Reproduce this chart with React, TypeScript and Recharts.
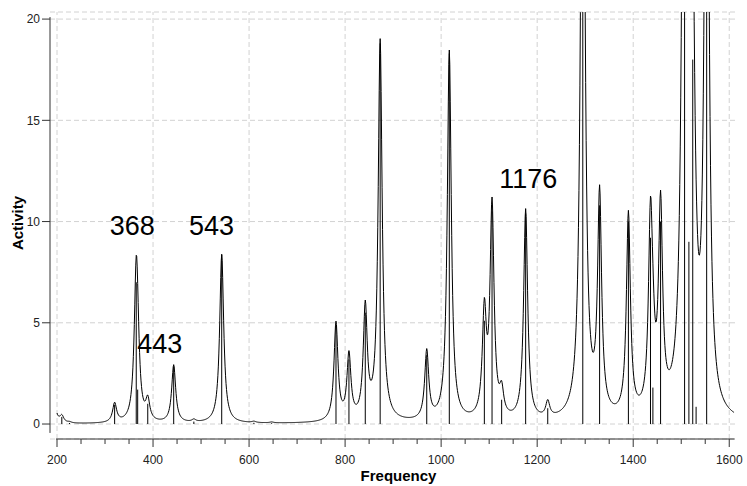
import React from 'react';
import { ComposedChart, Line, XAxis, YAxis, CartesianGrid, ReferenceLine, ReferenceDot } from 'recharts';

// stick spectrum: frequency (cm-1) and activity
const peakFreq = [
  194, 210, 226, 320, 365, 368, 389, 443, 485, 543,
  610, 647, 781, 808, 842, 873, 970, 1017, 1090, 1106,
  1126, 1176, 1222, 1295, 1330, 1390, 1436, 1441, 1457, 1507,
  1516, 1524, 1531, 1553,
];
const peakActivity = [
  1.1, 0.35, 0.05, 0.95, 7.0, 1.7, 1.0, 2.85, 0.12, 8.35,
  0.06, 0.04, 4.85, 3.2, 5.5, 18.8, 3.4, 18.3, 5.1, 10.5,
  1.2, 10.4, 0.78, 40, 10.8, 10.0, 9.2, 1.8, 10.0, 50,
  9, 18, 0.85, 42,
];

// lorentzian half width used for the broadened envelope
const HWHM = 5;
const freqStart = 200;
const freqEnd = 1610;

const xTicks = [
  200, 250, 300, 350, 400, 450, 500, 550, 600, 650, 700, 750, 800, 850, 900,
  950, 1000, 1050, 1100, 1150, 1200, 1250, 1300, 1350, 1400, 1450, 1500, 1550, 1600,
];
const xGrid = [200, 400, 600, 800, 1000, 1200, 1400, 1600];
const yTicks = [0, 5, 10, 15, 20];

const noteText = ['368', '443', '543', '1176'];
const noteFreq = [310, 367, 475, 1121];
const noteActivity = [9.33, 3.5, 9.33, 11.65];

const curve: { f: number; y: number }[] = [];
for (let f = freqStart; f <= freqEnd; f++) {
  let y = 0;
  peakFreq.forEach((p, i) => {
    const d = (f - p) / HWHM;
    y += peakActivity[i] / (1 + d * d);
  });
  curve.push({ f, y });
}

const GRID = '#d2d2d2';
const AXIS = '#333';

const XTick = (props: any) => {
  const { x, y, payload } = props;
  const major = payload.value % 200 === 0;
  return (
    <g>
      <line x1={x} x2={x} y1={y} y2={y + (major ? 8 : 5)} stroke={AXIS} />
      {major && (
        <text x={x} y={y + 25} textAnchor="middle" fontSize={12} fill="#222">
          {payload.value}
        </text>
      )}
    </g>
  );
};

const App = () => {
  return (
    <div style={{ position: 'absolute', left: 0, top: 0, fontFamily: '"Liberation Sans", Arial, sans-serif' }}>
      <ComposedChart width={747} height={486} data={curve} margin={{ top: 12, right: 12, left: 0, bottom: 0 }}>
        <CartesianGrid vertical={false} stroke={GRID} strokeDasharray="5 3" />
        {xGrid.map((v) => (
          <ReferenceLine key={'g' + v} x={v} stroke={GRID} strokeDasharray="5 3" />
        ))}
        <XAxis
          dataKey="f"
          type="number"
          domain={[185.4, 1612]}
          allowDataOverflow
          ticks={xTicks}
          interval={0}
          tick={<XTick />}
          tickLine={false}
          axisLine={false}
          tickSize={0}
          tickMargin={0}
          height={47}
          label={{
            value: 'Frequency',
            content: (p: any) => (
              <text
                x={p.viewBox.x + p.viewBox.width / 2 + 6}
                y={p.viewBox.y + 42}
                textAnchor="middle"
                fontSize={15}
                fontWeight="bold"
                fill="#000"
              >
                Frequency
              </text>
            ),
          }}
        />
        <YAxis
          type="number"
          domain={[-0.74, 20.35]}
          allowDataOverflow
          ticks={yTicks}
          width={50}
          tickSize={8}
          tickMargin={2}
          axisLine={false}
          tickLine={{ stroke: AXIS }}
          tick={{ fontSize: 12, fill: '#222' }}
          label={{
            value: 'Activity',
            content: (p: any) => {
              const cx = p.viewBox.x + 23;
              const cy = p.viewBox.y + p.viewBox.height / 2 - 2.5;
              return (
                <text
                  x={cx}
                  y={cy}
                  transform={`rotate(-90 ${cx} ${cy})`}
                  textAnchor="middle"
                  fontSize={15}
                  fontWeight="bold"
                  fill="#000"
                >
                  Activity
                </text>
              );
            },
          }}
        />
        {peakFreq.map((f, i) =>
          f >= freqStart ? (
            <ReferenceLine
              key={'s' + f}
              segment={[{ x: f, y: 0 }, { x: f, y: peakActivity[i] }]}
              stroke="#000"
              strokeWidth={1}
              ifOverflow="hidden"
            />
          ) : null
        )}
        <Line
          dataKey="y"
          type="linear"
          stroke="#000"
          strokeWidth={1}
          dot={false}
          activeDot={false}
          isAnimationActive={false}
        />
        <ReferenceLine segment={[{ x: 185.4, y: -0.44 }, { x: 185.4, y: 20.1 }]} stroke={AXIS} ifOverflow="visible" />
        <ReferenceLine segment={[{ x: 198, y: -0.74 }, { x: 1611, y: -0.74 }]} stroke={AXIS} ifOverflow="visible" />
        {noteText.map((t, i) => (
          <ReferenceDot
            key={'n' + t}
            x={noteFreq[i]}
            y={noteActivity[i]}
            r={1}
            fill="none"
            stroke="none"
            ifOverflow="visible"
            label={{
              value: t,
              content: (p: any) => (
                <text
                  x={p.viewBox.x + p.viewBox.width / 2}
                  y={p.viewBox.y + p.viewBox.height / 2}
                  textAnchor="start"
                  fontSize={27}
                  fill="#000"
                >
                  {t}
                </text>
              ),
            }}
          />
        ))}
      </ComposedChart>
    </div>
  );
};

export default App;
